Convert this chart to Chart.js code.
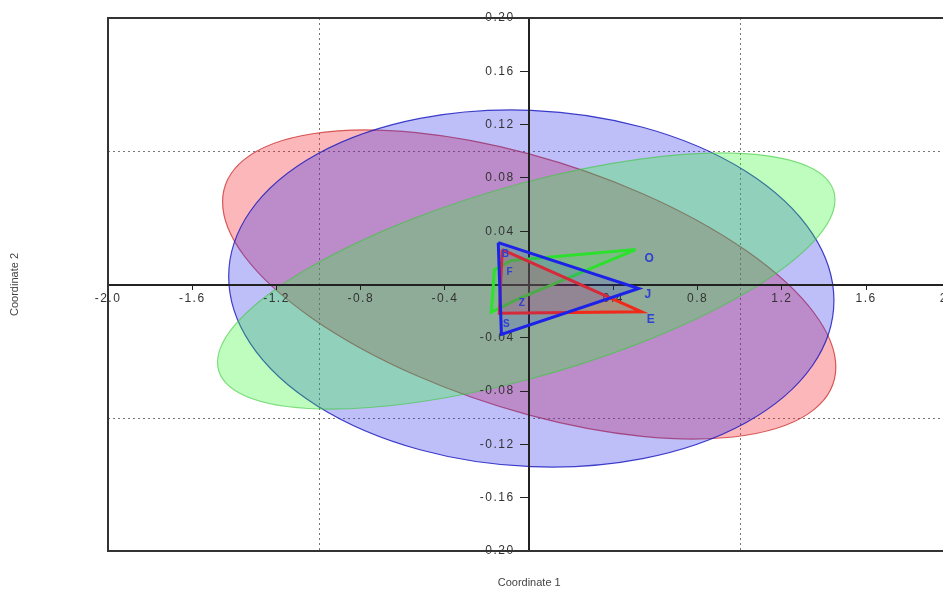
<!DOCTYPE html>
<html>
<head>
<meta charset="utf-8">
<script src="https://cdn.jsdelivr.net/npm/chart.js@4"></script>
<style>
  html, body { margin: 0; padding: 0; background: #fff; overflow: hidden; }
  #wrap { width: 964px; height: 592px; }
</style>
</head>
<body>
<div id="wrap"><canvas id="pcoChart" width="964" height="592"></canvas></div>
<script>
// axis ranges and reference lines
const xTicksRange = [-2.0, 2.0];
const yTicksRange = [-0.20, 0.20];
const gridX = [-1.0, 1.0];
const gridY = [-0.10, 0.10];

// 95% ellipses: center, half width along x, y offset at the x-extreme, remaining half height
const ellipseGroups = ["E", "J", "O"];
const ellipseCx = [0.0, 0.010, -0.014];
const ellipseCy = [0.0, -0.003, 0.0026];
const ellipseAx = [1.456, 1.437, 1.466];
const ellipseAy = [-0.062, -0.009, 0.061];
const ellipseBy = [0.098, 0.1337, 0.0743];
const ellipseFill = ["rgba(245,30,40,0.32)", "rgba(40,40,235,0.30)", "rgba(40,250,40,0.30)"];
const ellipseEdge = ["rgba(200,30,30,0.7)", "rgba(20,20,190,0.8)", "rgba(60,200,60,0.6)"];

// convex hulls
const hullJx = [-0.147, 0.520, -0.132];
const hullJy = [0.0314, -0.0030, -0.0374];
const hullEx = [-0.128, 0.534, -0.142];
const hullEy = [0.0262, -0.0205, -0.0215];
const hullOx = [0.506, -0.085, -0.165, -0.180, -0.057];
const hullOy = [0.0262, 0.0180, 0.0112, -0.0209, -0.0112];

// point / group labels
const labelText = ["O", "J", "E", "B", "F", "Z", "S"];
const labelX = [0.548, 0.548, 0.558, -0.130, -0.108, -0.050, -0.125];
const labelY = [0.0190, -0.0080, -0.0265, 0.0225, 0.0095, -0.0140, -0.0300];
const labelSize = [12, 12, 12, 10, 10, 10, 10];

function closed(xs, ys) {
    const pts = xs.map((x, i) => ({ x: x, y: ys[i] }));
    pts.push(pts[0]);
    return pts;
}

const ellipsePlugin = {
    id: "ellipses",
    beforeUpdate(chart) {
        chart.ctx.letterSpacing = "1.5px";
    },
    beforeDraw(chart) {
        const { ctx, chartArea, scales } = chart;
        const x = scales.x, y = scales.y;
        const sx = x.getPixelForValue(1) - x.getPixelForValue(0);
        const sy = y.getPixelForValue(1) - y.getPixelForValue(0);
        ctx.save();
        ctx.beginPath();
        ctx.rect(chartArea.left, chartArea.top, chartArea.right - chartArea.left, chartArea.bottom - chartArea.top);
        ctx.clip();
        // dotted reference lines
        ctx.strokeStyle = "#777";
        ctx.lineWidth = 1;
        ctx.setLineDash([2, 3]);
        gridX.forEach(v => {
            const p = Math.round(x.getPixelForValue(v)) + 0.5;
            ctx.beginPath();
            ctx.moveTo(p, chartArea.top);
            ctx.lineTo(p, chartArea.bottom);
            ctx.stroke();
        });
        gridY.forEach(v => {
            const p = Math.round(y.getPixelForValue(v)) + 0.5;
            ctx.beginPath();
            ctx.moveTo(chartArea.left, p);
            ctx.lineTo(chartArea.right, p);
            ctx.stroke();
        });
        ctx.setLineDash([]);
        ellipseGroups.forEach((g, i) => {
            ctx.save();
            ctx.transform(sx * ellipseAx[i], sy * ellipseAy[i], 0, sy * ellipseBy[i],
                x.getPixelForValue(ellipseCx[i]), y.getPixelForValue(ellipseCy[i]));
            ctx.beginPath();
            ctx.arc(0, 0, 1, 0, Math.PI * 2);
            ctx.restore();
            ctx.fillStyle = ellipseFill[i];
            ctx.fill();
            ctx.strokeStyle = ellipseEdge[i];
            ctx.lineWidth = 1.2;
            ctx.stroke();
        });
        ctx.restore();
    },
    afterDraw(chart) {
        const { ctx, chartArea, scales } = chart;
        ctx.save();
        // frame
        ctx.strokeStyle = "#333";
        ctx.lineWidth = 2;
        ctx.strokeRect(chartArea.left, chartArea.top, chartArea.right - chartArea.left, chartArea.bottom - chartArea.top);
        // labels
        ctx.letterSpacing = "0px";
        ctx.fillStyle = "#3040d0";
        ctx.textAlign = "left";
        ctx.textBaseline = "middle";
        labelText.forEach((t, i) => {
            ctx.font = "bold " + labelSize[i] + "px 'Liberation Sans', Arial, sans-serif";
            ctx.fillText(t, scales.x.getPixelForValue(labelX[i]), scales.y.getPixelForValue(labelY[i]));
        });
        // axis titles
        ctx.fillStyle = "#444";
        ctx.font = "11px 'Liberation Sans', Arial, sans-serif";
        ctx.textAlign = "center";
        ctx.fillText("Coordinate 1", (chartArea.left + chartArea.right) / 2, 583);
        ctx.translate(15, (chartArea.top + chartArea.bottom) / 2);
        ctx.rotate(-Math.PI / 2);
        ctx.fillText("Coordinate 2", 0, 0);
        ctx.restore();
        ctx.letterSpacing = "1.5px";
    }
};

const hullStyle = (stroke, fill) => ({
    showLine: true,
    borderColor: stroke,
    backgroundColor: fill,
    borderWidth: 3,
    fill: "shape",
    pointRadius: 0,
    tension: 0
});

new Chart(document.getElementById("pcoChart"), {
    type: "scatter",
    data: {
        datasets: [
            Object.assign({ label: "J", data: closed(hullJx, hullJy) }, hullStyle("#1c22e8", "rgba(40,40,255,0.14)")),
            Object.assign({ label: "E", data: closed(hullEx, hullEy) }, hullStyle("#f02a1a", "rgba(255,40,40,0.18)")),
            Object.assign({ label: "O", data: closed(hullOx, hullOy) }, hullStyle("#2ee02e", "rgba(40,255,40,0.16)"))
        ]
    },
    options: {
        responsive: false,
        animation: false,
        layout: { padding: { left: 108, top: 18, right: 12, bottom: 41 } },
        plugins: {
            legend: { display: false },
            tooltip: { enabled: false }
        },
        scales: {
            x: {
                type: "linear",
                position: { y: 0 },
                min: xTicksRange[0],
                max: xTicksRange[1],
                grid: { drawOnChartArea: false, drawTicks: true, tickLength: 4, color: "#222" },
                border: { display: true, color: "#222", width: 2 },
                ticks: {
                    stepSize: 0.4,
                    autoSkip: false,
                    maxRotation: 0,
                    padding: 3,
                    color: "#333",
                    font: { family: "'Liberation Sans', Arial, sans-serif", size: 12 },
                    callback: v => Math.abs(v) < 1e-9 ? "" : Number(v).toFixed(1)
                }
            },
            y: {
                type: "linear",
                position: { x: 0 },
                min: yTicksRange[0],
                max: yTicksRange[1],
                grid: { drawOnChartArea: false, drawTicks: true, tickLength: 8, color: "#222" },
                border: { display: true, color: "#222", width: 2 },
                ticks: {
                    stepSize: 0.04,
                    autoSkip: false,
                    padding: 2,
                    color: "#333",
                    font: { family: "'Liberation Sans', Arial, sans-serif", size: 12 },
                    callback: v => Math.abs(v) < 1e-9 ? "" : Number(v).toFixed(2) + "   "
                }
            }
        }
    },
    plugins: [ellipsePlugin]
});
</script>
</body>
</html>
